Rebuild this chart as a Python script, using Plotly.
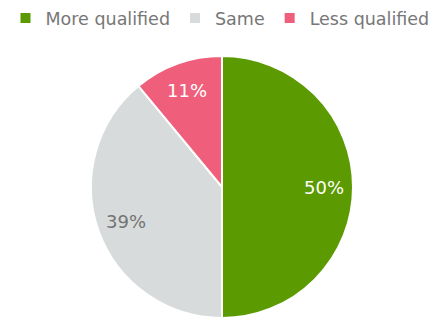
import math
import plotly.graph_objects as go

labels = ["More qualified", "Same", "Less qualified"]
values = [50, 39, 11]
colors = ["#5b9a00", "#d7dbdb", "#ef5f7c"]
text_colors = ["#ffffff", "#737373", "#ffffff"]

W, H = 440, 322
# pie geometry (pixels within figure)
cx, cy, R = 222, 187, 131

fig = go.Figure(go.Pie(
    labels=labels,
    values=values,
    sort=False,
    direction="clockwise",
    rotation=0,
    marker=dict(colors=colors, line=dict(color="#ffffff", width=2)),
    textinfo="none",
    domain=dict(x=[(cx - R) / W, (cx + R) / W], y=[(H - cy - R) / H, (H - cy + R) / H]),
    hoverinfo="label+percent",
))

# percentage labels placed along each slice's mid-angle
total = sum(values)
annotations = []
cum = 0
for v, tc in zip(values, text_colors):
    mid = (cum + v / 2) / total * 2 * math.pi
    cum += v
    px = cx + 0.78 * R * math.sin(mid)
    py = cy - 0.78 * R * math.cos(mid)
    annotations.append(dict(
        x=px / W, y=1 - py / H, xref="paper", yref="paper",
        text=f"{round(v / total * 100)}%", showarrow=False,
        font=dict(size=18, color=tc, family="DejaVu Sans"),
        xanchor="center", yanchor="middle",
    ))

fig.update_layout(
    width=W, height=H,
    margin=dict(l=0, r=0, t=0, b=0),
    paper_bgcolor="white",
    plot_bgcolor="white",
    showlegend=True,
    legend=dict(
        orientation="h",
        x=0.5, xanchor="center",
        y=1.0, yanchor="top",
        font=dict(size=17.5, color="#777777", family="DejaVu Sans"),
        itemwidth=30,
        traceorder="normal",
    ),
    annotations=annotations,
)

fig.write_html("out.html", config={"displayModeBar": False},
               post_script="document.body.style.margin='0';")
